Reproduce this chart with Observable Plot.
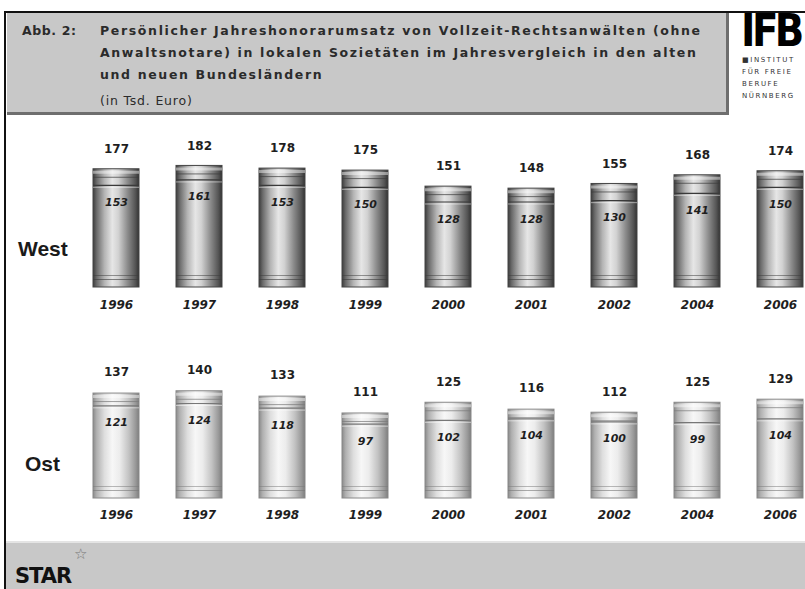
<!DOCTYPE html>
<html>
<head>
<meta charset="utf-8">
<script src="https://cdn.jsdelivr.net/npm/d3@7"></script>
<script src="https://cdn.jsdelivr.net/npm/@observablehq/plot@0.6"></script>
<style>
  html, body { margin:0; padding:0; background:#fff; }
  body { width:805px; height:589px; position:relative; overflow:hidden; font-family:"Liberation Sans", Arial, sans-serif; }
  .abs { position:absolute; }
  #hdr { left:7px; top:13px; width:722px; height:102px; background:#c8c8c8; border-right:3px solid #6e6e6e; border-bottom:3px solid #6e6e6e; box-sizing:border-box; }
  .ht { position:absolute; font-family:"DejaVu Sans", sans-serif; font-weight:bold; font-size:12.5px; line-height:15px; color:#2b2b2b; white-space:nowrap; letter-spacing:1.65px; }
  .row { position:absolute; font-weight:bold; font-size:21px; color:#1a1a1a; }
  #ftr { left:6px; top:541px; width:799px; height:48px; background:#c8c8c8; border-top:2px solid #e4e4e4; box-sizing:border-box; }
  .ifb { position:absolute; font-family:"DejaVu Sans", sans-serif; font-size:7px; line-height:9px; color:#333; letter-spacing:1.6px; white-space:nowrap; }
</style>
</head>
<body>
<div class="abs" style="left:4px;top:11px;width:801px;height:2px;background:#111"></div>
<div class="abs" style="left:4px;top:11px;width:2px;height:578px;background:#111"></div>
<div id="hdr" class="abs">
  <div class="ht" style="left:15px;top:10px;letter-spacing:0.6px">Abb. 2:</div>
  <div class="ht" style="left:93px;top:10px">Persönlicher Jahreshonorarumsatz von Vollzeit-Rechtsanwälten (ohne</div>
  <div class="ht" style="left:93px;top:32px">Anwaltsnotare) in lokalen Sozietäten im Jahresvergleich in den alten</div>
  <div class="ht" style="left:93px;top:54px">und neuen Bundesländern</div>
  <div class="ht" style="left:93px;top:80px;font-weight:normal;letter-spacing:0.8px">(in Tsd. Euro)</div>
</div>
<div class="abs" style="left:741px;top:14px;font-family:'DejaVu Sans',sans-serif;font-weight:900;font-size:44px;line-height:34px;letter-spacing:-4px;color:#000;transform:scaleX(0.88);transform-origin:left">IFB</div>
<div class="ifb" style="left:742px;top:56px">■INSTITUT</div>
<div class="ifb" style="left:742px;top:68px">FÜR FREIE</div>
<div class="ifb" style="left:742px;top:80px">BERUFE</div>
<div class="ifb" style="left:742px;top:92px">NÜRNBERG</div>

<div id="west" class="abs" style="left:0;top:120px"></div>
<div id="ost" class="abs" style="left:0;top:330px"></div>
<div class="row" style="left:18px;top:237px">West</div>
<div class="row" style="left:25px;top:452px">Ost</div>

<div id="ftr" class="abs">
  <div class="abs" style="left:68px;top:3px;font-size:15px;line-height:16px;color:#777">☆</div>
  <div class="abs" style="left:9px;top:23px;font-family:'DejaVu Sans',sans-serif;font-weight:900;font-size:21px;line-height:21px;color:#111;letter-spacing:-1px">STAR</div>
</div>

<script>
const years = ["1996","1997","1998","1999","2000","2001","2002","2004","2006"];
const westOuter = [177, 182, 178, 175, 151, 148, 155, 168, 174];
const westInner = [153, 161, 153, 150, 128, 128, 130, 141, 150];
const ostOuter  = [137, 140, 133, 111, 125, 116, 112, 125, 129];
const ostInner  = [121, 124, 118, 97, 102, 104, 100, 99, 104];

function cylinders(outer, inner, opts) {
  const data = years.map((y, i) => ({year: y, outer: outer[i], inner: inner[i]}));
  const base = opts.base;
  const svg = Plot.plot({
    width: 805,
    height: 210,
    margin: 0,
    x: {type: "band", domain: years, range: [90, 807], paddingInner: 0.44, paddingOuter: 0, axis: null},
    y: {domain: [0, 200], range: [base, base - opts.k * 200], axis: null},
    marks: [
      Plot.barY(data, {x: "year", y: "outer", fill: `url(#${opts.id})`, stroke: opts.edge, strokeWidth: 1}),
      Plot.tickY(data, {x: "year", y: "outer", dy: 3, stroke: "#ffffff", strokeWidth: 3, strokeOpacity: 0.45}),
      Plot.tickY(data, {x: "year", y: "outer", dy: 8, stroke: opts.line, strokeWidth: 1, strokeOpacity: 0.7}),
      Plot.tickY(data, {x: "year", y: "inner", stroke: opts.line, strokeWidth: 1.2}),
      Plot.tickY(data, {x: "year", y: "inner", dy: 2, stroke: "#ffffff", strokeWidth: 1, strokeOpacity: 0.5}),
      Plot.tickY(data, {x: "year", y: 0, dy: -8, stroke: opts.line, strokeWidth: 1, strokeOpacity: 0.6}),
      Plot.tickY(data, {x: "year", y: 0, dy: -12, stroke: opts.line, strokeWidth: 1, strokeOpacity: 0.5}),
      Plot.text(data, {x: "year", y: "outer", text: "outer", dy: opts.topDy, fontWeight: "bold", fontSize: 12, fill: "#1e1e1e", fontFamily: "DejaVu Sans"}),
      Plot.text(data, {x: "year", y: "inner", text: "inner", dy: 17, fontWeight: "bold", fontStyle: "italic", fontSize: 11, fill: "#1e1e1e", fontFamily: "DejaVu Sans"}),
      Plot.text(data, {x: "year", frameAnchor: "bottom", text: "year", dy: opts.yearDy, fontWeight: "bold", fontStyle: "italic", fontSize: 12, fill: "#1e1e1e", fontFamily: "DejaVu Sans", letterSpacing: "0.5px"})
    ]
  });
  const defs = d3.select(svg).insert("defs", ":first-child");
  const g = defs.append("linearGradient").attr("id", opts.id).attr("x1", 0).attr("x2", 1).attr("y1", 0).attr("y2", 0);
  opts.stops.forEach(([o, c]) => g.append("stop").attr("offset", o).attr("stop-color", c));
  return svg;
}

document.getElementById("west").append(cylinders(westOuter, westInner, {
  id: "gw", base: 167, k: 0.668, topDy: -20, yearDy: -22, edge: "#444", line: "#3a3a3a",
  stops: [[0, "#3c3c3c"], [0.08, "#6a6a6a"], [0.25, "#b4b4b4"], [0.42, "#e6e6e6"], [0.55, "#d2d2d2"], [0.75, "#8c8c8c"], [0.92, "#555"], [1, "#333"]]
}));
document.getElementById("ost").append(cylinders(ostOuter, ostInner, {
  id: "go", base: 168, k: 0.766, topDy: -21, yearDy: -22, edge: "#888", line: "#777",
  stops: [[0, "#8a8a8a"], [0.08, "#b0b0b0"], [0.25, "#dedede"], [0.42, "#f7f7f7"], [0.58, "#ececec"], [0.78, "#c2c2c2"], [0.92, "#9a9a9a"], [1, "#7e7e7e"]]
}));
</script>
</body>
</html>
